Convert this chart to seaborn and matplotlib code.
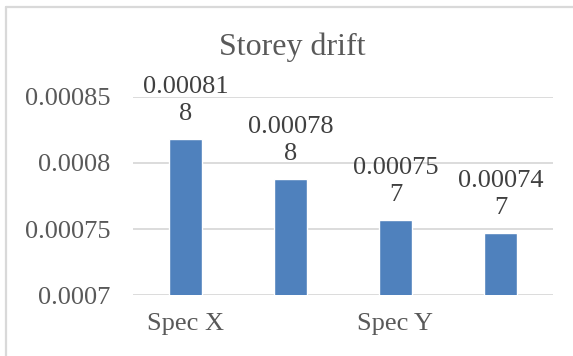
import matplotlib
matplotlib.use("Agg")
import matplotlib.pyplot as plt
import seaborn as sns
import pandas as pd
from matplotlib.lines import Line2D

sns.set_theme(style="white")
plt.rcParams['font.family'] = ['Liberation Serif', 'DejaVu Serif']

# data
cases = ['Spec X', 'Spec X2', 'Spec Y', 'Spec Y2']
tick_labels = ['Spec X', '', 'Spec Y', '']
drift = [0.000818, 0.000788, 0.000757, 0.000747]
df = pd.DataFrame({'case': cases, 'drift': drift})

grey = '#595959'
fig = plt.figure(figsize=(5.73, 3.56), dpi=100)
ax = fig.add_axes([0.232, 0.171, 0.733, 0.557])

sns.barplot(data=df, x='case', y='drift', color='#4f81bd', saturation=1,
            width=0.32, ax=ax, zorder=3)

ax.set_ylim(0.0007, 0.00085)
ax.set_yticks([0.0007, 0.00075, 0.0008, 0.00085])
ax.set_yticklabels(['0.0007', '0.00075', '0.0008', '0.00085'])
ax.set_xticks(range(len(cases)))
ax.set_xticklabels(tick_labels)
ax.set_xlim(-0.5, len(cases) - 0.5)
ax.grid(axis='y', color='#d9d9d9', linewidth=1.3, zorder=0)
ax.grid(axis='x', visible=False)
for s in ax.spines.values():
    s.set_visible(False)
ax.tick_params(axis='y', labelsize=19, labelcolor=grey, length=0, pad=16)
ax.tick_params(axis='x', labelsize=19, labelcolor=grey, length=0, pad=13)
ax.set_xlabel('')
ax.set_ylabel('')

# data labels, wrapped the way the original shows them
for i, v in enumerate(drift):
    s = f'{v:.6f}'
    ax.annotate(s[:7] + '\n' + s[7:], (i, v), xytext=(0, 10),
                textcoords='offset points', ha='center', va='bottom',
                fontsize=19, color='#404040', linespacing=1.3,
                annotation_clip=False)

fig.text(0.51, 1 - 47 / 356, 'Storey drift', ha='center', va='center',
         fontsize=23, color=grey)

# chart border (left and top visible)
fig.add_artist(Line2D([6 / 573, 6 / 573], [0, 1 - 7 / 356], transform=fig.transFigure,
                      color='#d9d9d9', linewidth=1.6))
fig.add_artist(Line2D([6 / 573, 1], [1 - 7 / 356, 1 - 7 / 356], transform=fig.transFigure,
                      color='#d9d9d9', linewidth=1.6))

fig.savefig('out.png', dpi=100, facecolor='white')
